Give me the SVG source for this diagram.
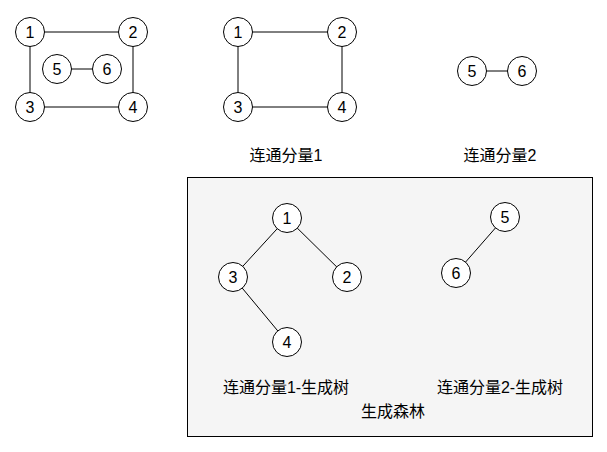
<svg xmlns="http://www.w3.org/2000/svg" width="607" height="452" viewBox="0 0 607 452">
<style>
circle{fill:#fff;stroke:#000;stroke-width:1}
line{stroke:#000;stroke-width:1}
text{font-family:"Liberation Sans","Noto Sans CJK SC",sans-serif;font-size:16px;fill:#000;text-anchor:middle;dominant-baseline:central}
.lb{font-size:16px}
</style>
<rect x="187.5" y="177.5" width="405" height="259" fill="#f5f5f5" stroke="#000" stroke-width="1"/>
<g id="connectors">
<line x1="30" y1="32" x2="133" y2="32"/>
<line x1="30" y1="32" x2="30" y2="107"/>
<line x1="133" y1="32" x2="133" y2="107"/>
<line x1="30" y1="107" x2="133" y2="107"/>
<line x1="57" y1="69" x2="107" y2="69"/>
<line x1="238" y1="32" x2="342" y2="32"/>
<line x1="238" y1="32" x2="238" y2="107"/>
<line x1="342" y1="32" x2="342" y2="107"/>
<line x1="238" y1="107" x2="342" y2="107"/>
<line x1="472" y1="71" x2="522" y2="71"/>
<line x1="287" y1="218" x2="233" y2="277"/>
<line x1="287" y1="218" x2="347" y2="277"/>
<line x1="233" y1="277" x2="287" y2="342"/>
<line x1="505" y1="217" x2="456" y2="273"/>
</g>
<g id="a1"><circle cx="30" cy="32" r="14.5"/><text x="30" y="32">1</text></g>
<g id="a2"><circle cx="133" cy="32" r="14.5"/><text x="133" y="32">2</text></g>
<g id="a3"><circle cx="30" cy="107" r="14.5"/><text x="30" y="107">3</text></g>
<g id="a4"><circle cx="133" cy="107" r="14.5"/><text x="133" y="107">4</text></g>
<g id="a5"><circle cx="57" cy="69" r="14.5"/><text x="57" y="69">5</text></g>
<g id="a6"><circle cx="107" cy="69" r="14.5"/><text x="107" y="69">6</text></g>
<g id="b1"><circle cx="238" cy="32" r="14.5"/><text x="238" y="32">1</text></g>
<g id="b2"><circle cx="342" cy="32" r="14.5"/><text x="342" y="32">2</text></g>
<g id="b3"><circle cx="238" cy="107" r="14.5"/><text x="238" y="107">3</text></g>
<g id="b4"><circle cx="342" cy="107" r="14.5"/><text x="342" y="107">4</text></g>
<g id="c5"><circle cx="472" cy="71" r="14.5"/><text x="472" y="71">5</text></g>
<g id="c6"><circle cx="522" cy="71" r="14.5"/><text x="522" y="71">6</text></g>
<g id="d1"><circle cx="287" cy="218" r="14.5"/><text x="287" y="218">1</text></g>
<g id="d2"><circle cx="347" cy="277" r="14.5"/><text x="347" y="277">2</text></g>
<g id="d3"><circle cx="233" cy="277" r="14.5"/><text x="233" y="277">3</text></g>
<g id="d4"><circle cx="287" cy="342" r="14.5"/><text x="287" y="342">4</text></g>
<g id="e5"><circle cx="505" cy="217" r="14.5"/><text x="505" y="217">5</text></g>
<g id="e6"><circle cx="456" cy="273" r="14.5"/><text x="456" y="273">6</text></g>
<g id="labels">
<text class="lb" x="286" y="155">连通分量1</text>
<text class="lb" x="500" y="155">连通分量2</text>
<text class="lb" x="286" y="387">连通分量1-生成树</text>
<text class="lb" x="500" y="387">连通分量2-生成树</text>
<text class="lb" x="393" y="411">生成森林</text>
</g>
</svg>
